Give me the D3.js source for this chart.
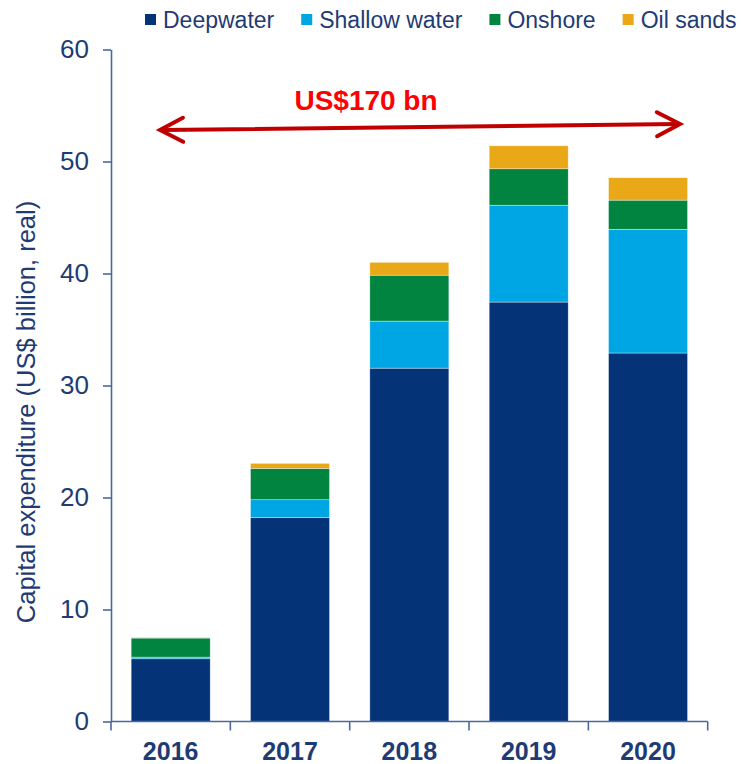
<!DOCTYPE html>
<html>
<head>
<meta charset="utf-8">
<script src="https://cdn.jsdelivr.net/npm/d3@7"></script>
<style>
  html, body { margin: 0; padding: 0; background: #fff; }
  svg { display: block; font-family: "Liberation Sans", Arial, sans-serif; }
</style>
</head>
<body>
<svg id="chart" width="746" height="764"></svg>
<script>
// Capital expenditure by resource type, US$ billion (real)
const years = ["2016", "2017", "2018", "2019", "2020"];
const seriesNames = ["Deepwater", "Shallow water", "Onshore", "Oil sands"];
const deepwater    = [5.6, 18.2, 31.55, 37.45, 32.9];
const shallowWater = [0.15, 1.6, 4.2, 8.65, 11.05];
const onshore      = [1.7, 2.8, 4.1, 3.25, 2.6];
const oilSands     = [0.05, 0.45, 1.15, 2.05, 2.0];
const yTicks = [0, 10, 20, 30, 40, 50, 60];
const seriesColors = ["#043377", "#00A5E3", "#00843F", "#E9A817"];
const totalLabel = "US$170 bn";
const yTitle = "Capital expenditure (US$ billion, real)";

const textColor = "#1f3b73";
const axisColor = "#4a68a0";

const rows = years.map((y, i) => ({
  year: y,
  "Deepwater": deepwater[i],
  "Shallow water": shallowWater[i],
  "Onshore": onshore[i],
  "Oil sands": oilSands[i]
}));

const svg = d3.select("#chart");
const plot = { left: 111, right: 707.7, top: 49.5, bottom: 721.5 };

const x = d3.scaleBand().domain(years).range([plot.left, plot.right]).padding(0);
const y = d3.scaleLinear().domain([0, 60]).range([plot.bottom, plot.top]);
const color = d3.scaleOrdinal().domain(seriesNames).range(seriesColors);

const stacked = d3.stack().keys(seriesNames)(rows);
const barFrac = 0.662;
const barW = x.bandwidth() * barFrac;

// stacked bars
svg.append("g")
  .selectAll("g")
  .data(stacked)
  .join("g")
  .attr("fill", d => color(d.key))
  .selectAll("rect")
  .data(d => d)
  .join("rect")
  .attr("x", d => x(d.data.year) + (x.bandwidth() - barW) / 2)
  .attr("width", barW)
  .attr("y", d => y(d[1]))
  .attr("height", d => y(d[0]) - y(d[1]))
  .attr("stroke", "#ffffff")
  .attr("stroke-opacity", 0.6)
  .attr("stroke-width", 0.6);

// y axis
const yAxis = svg.append("g")
  .attr("transform", `translate(${plot.left},0)`)
  .call(d3.axisLeft(y).tickValues(yTicks).tickSize(8).tickPadding(14).tickSizeOuter(0));
yAxis.select(".domain").attr("stroke", axisColor).attr("stroke-width", 1.6);
yAxis.selectAll(".tick line").attr("stroke", axisColor).attr("stroke-width", 1.6);
yAxis.selectAll(".tick text")
  .attr("fill", textColor)
  .attr("font-size", 26)
  .attr("font-family", "Liberation Sans, Arial, sans-serif");

// x axis: ticks at category boundaries
const xAxisG = svg.append("g").attr("transform", `translate(0,${plot.bottom})`);
xAxisG.append("line")
  .attr("x1", plot.left).attr("x2", plot.right)
  .attr("y1", 0).attr("y2", 0)
  .attr("stroke", axisColor).attr("stroke-width", 1.6);
const boundaries = years.map(d => x(d)).concat([x(years[years.length - 1]) + x.bandwidth()]);
xAxisG.selectAll("line.tk")
  .data(boundaries)
  .join("line")
  .attr("class", "tk")
  .attr("x1", d => d).attr("x2", d => d)
  .attr("y1", 0).attr("y2", 9)
  .attr("stroke", axisColor).attr("stroke-width", 1.6);
xAxisG.selectAll("text")
  .data(years)
  .join("text")
  .attr("x", d => x(d) + x.bandwidth() / 2)
  .attr("y", 38)
  .attr("text-anchor", "middle")
  .attr("font-size", 25)
  .attr("font-weight", "bold")
  .attr("fill", textColor)
  .text(d => d);

// y axis title
svg.append("text")
  .attr("transform", "translate(35,412) rotate(-90)")
  .attr("text-anchor", "middle")
  .attr("font-size", 25.5)
  .attr("fill", textColor)
  .text(yTitle);

// legend
const legend = svg.append("g").attr("transform", "translate(145,0)");
let lx = 0;
seriesNames.forEach(name => {
  const g = legend.append("g").attr("transform", `translate(${lx},0)`);
  g.append("rect")
    .attr("x", 0).attr("y", 14)
    .attr("width", 11).attr("height", 11)
    .attr("fill", color(name));
  const t = g.append("text")
    .attr("x", 18).attr("y", 28)
    .attr("font-size", 23)
    .attr("fill", textColor)
    .text(name);
  lx += 18 + t.node().getComputedTextLength() + 27;
});

// double-headed arrow spanning the period
const arrowColor = "#C00000";
const a0 = [160, 130], a1 = [680, 124];
const arrow = svg.append("g")
  .attr("stroke", arrowColor)
  .attr("stroke-width", 4)
  .attr("fill", "none")
  .attr("stroke-linecap", "round")
  .attr("stroke-linejoin", "miter");
arrow.append("line")
  .attr("x1", a0[0] + 2).attr("y1", a0[1])
  .attr("x2", a1[0] - 2).attr("y2", a1[1]);
const ang = Math.atan2(a1[1] - a0[1], a1[0] - a0[0]);
function head(tip, dir) {
  const L = 26, spread = 0.48;
  const p1 = [tip[0] - dir * L * Math.cos(ang - spread), tip[1] - dir * L * Math.sin(ang - spread)];
  const p2 = [tip[0] - dir * L * Math.cos(ang + spread), tip[1] - dir * L * Math.sin(ang + spread)];
  return `M${p1[0]},${p1[1]}L${tip[0]},${tip[1]}L${p2[0]},${p2[1]}`;
}
arrow.append("path").attr("d", head(a0, -1));
arrow.append("path").attr("d", head(a1, 1));

svg.append("text")
  .attr("x", 366)
  .attr("y", 110)
  .attr("text-anchor", "middle")
  .attr("font-size", 28)
  .attr("font-weight", "bold")
  .attr("fill", "#FF0000")
  .text(totalLabel);
</script>
</body>
</html>
